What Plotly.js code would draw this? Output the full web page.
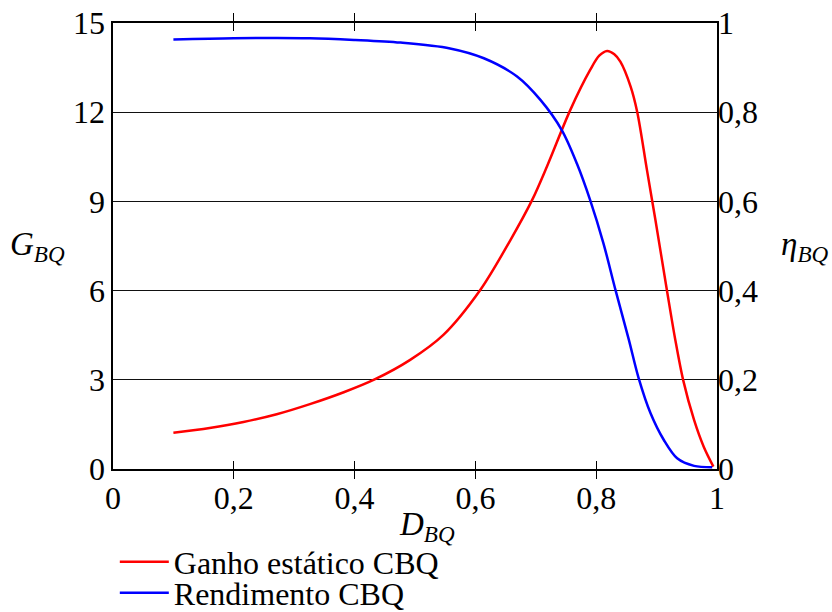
<!DOCTYPE html>
<html>
<head>
<meta charset="utf-8">
<script src="https://cdn.plot.ly/plotly-3.0.1.min.js"></script>
<style>html,body{margin:0;padding:0;background:#fff;}#chart{width:832px;height:612px;}</style>
</head>
<body>
<div id="chart"></div>
<script>
// Ganho estático CBQ (left axis)
const gainD = [0.100, 0.160, 0.216, 0.271, 0.326, 0.382, 0.434, 0.492, 0.547, 0.608, 0.658, 0.694, 0.719, 0.757, 0.790, 0.805, 0.818, 0.830, 0.840, 0.857, 0.868, 0.884, 0.898, 0.917, 0.931, 0.944, 0.962, 0.978, 0.994];
const gainG = [1.22, 1.38, 1.58, 1.84, 2.18, 2.58, 3.02, 3.67, 4.51, 6.02, 7.70, 9.05, 10.20, 12.07, 13.42, 13.90, 14.06, 13.95, 13.70, 12.86, 12.00, 10.06, 8.38, 6.02, 4.34, 2.99, 1.65, 0.75, 0.08];
// Rendimento CBQ (right axis)
const effD = [0.100, 0.200, 0.326, 0.401, 0.476, 0.558, 0.614, 0.669, 0.708, 0.743, 0.768, 0.790, 0.812, 0.832, 0.854, 0.870, 0.890, 0.912, 0.934, 0.962, 0.992];
const effN = [0.963, 0.966, 0.966, 0.962, 0.956, 0.943, 0.921, 0.880, 0.827, 0.760, 0.685, 0.603, 0.506, 0.401, 0.290, 0.205, 0.125, 0.065, 0.024, 0.007, 0.004];

const xTicks = [0, 0.2, 0.4, 0.6, 0.8, 1];
const yTicks = [0, 3, 6, 9, 12, 15];
const y2Ticks = [0, 0.2, 0.4, 0.6, 0.8, 1];

const FONT = 'Liberation Serif';

const traces = [
  {x: gainD, y: gainG, name: 'Ganho estático CBQ', type: 'scatter', mode: 'lines',
   line: {color: '#ff0000', width: 2.5, shape: 'spline', smoothing: 0.9}, yaxis: 'y', legend: 'legend'},
  {x: effD, y: effN, name: 'Rendimento CBQ', type: 'scatter', mode: 'lines',
   line: {color: '#0000ff', width: 2.5, shape: 'spline', smoothing: 0.9}, yaxis: 'y2', legend: 'legend2'}
];

const layout = {
  width: 832, height: 612,
  margin: {l: 113, r: 115, t: 23, b: 143, autoexpand: false},
  paper_bgcolor: '#ffffff', plot_bgcolor: '#ffffff',
  separators: ',.',
  font: {family: FONT, size: 31, color: '#000'},
  showlegend: true,
  xaxis: {range: [0, 1], tickvals: xTicks, ticks: 'inside', ticklen: 8, tickwidth: 1.3, tickcolor: '#000',
          showline: true, linecolor: '#000', linewidth: 1.6, mirror: 'allticks', showgrid: false, zeroline: false,
          tickfont: {family: FONT, size: 32, color: '#000'}, fixedrange: true, automargin: false},
  yaxis: {range: [0, 15], tickvals: yTicks, ticks: '', showline: true, linecolor: '#000', linewidth: 1.6, mirror: true,
          showgrid: true, gridcolor: '#111', gridwidth: 1.3, zeroline: false,
          tickfont: {family: FONT, size: 32, color: '#000'}, fixedrange: true, automargin: false},
  yaxis2: {range: [0, 1], tickvals: y2Ticks, overlaying: 'y', side: 'right', ticks: '', showgrid: false, zeroline: false,
           showline: false, tickfont: {family: FONT, size: 32, color: '#000'}, fixedrange: true, automargin: false},
  legend: {x: 0.003, y: -0.2085, xanchor: 'left', yanchor: 'middle', bgcolor: 'rgba(0,0,0,0)', itemwidth: 49,
           font: {family: FONT, size: 32, color: '#000'}},
  legend2: {x: 0.003, y: -0.278, xanchor: 'left', yanchor: 'middle', bgcolor: 'rgba(0,0,0,0)', itemwidth: 49,
           font: {family: FONT, size: 32, color: '#000'}},
  annotations: [
    {xref: 'paper', yref: 'paper', x: 0.52, y: -0.13, xanchor: 'center', yanchor: 'middle', showarrow: false,
     text: '<i>D</i><sub><i>BQ</i></sub>', font: {family: FONT, size: 33, color: '#000'}},
    {xref: 'paper', yref: 'paper', x: -0.125, y: 0.5, xanchor: 'center', yanchor: 'middle', showarrow: false,
     text: '<i>G</i><sub><i>BQ</i></sub>', font: {family: FONT, size: 33, color: '#000'}},
    {xref: 'paper', yref: 'paper', x: 1.145, y: 0.5, xanchor: 'center', yanchor: 'middle', showarrow: false,
     text: '<i>η</i><sub><i>BQ</i></sub>', font: {family: FONT, size: 33, color: '#000'}}
  ]
};

Plotly.newPlot('chart', traces, layout, {displayModeBar: false, staticPlot: true});
</script>
</body>
</html>
